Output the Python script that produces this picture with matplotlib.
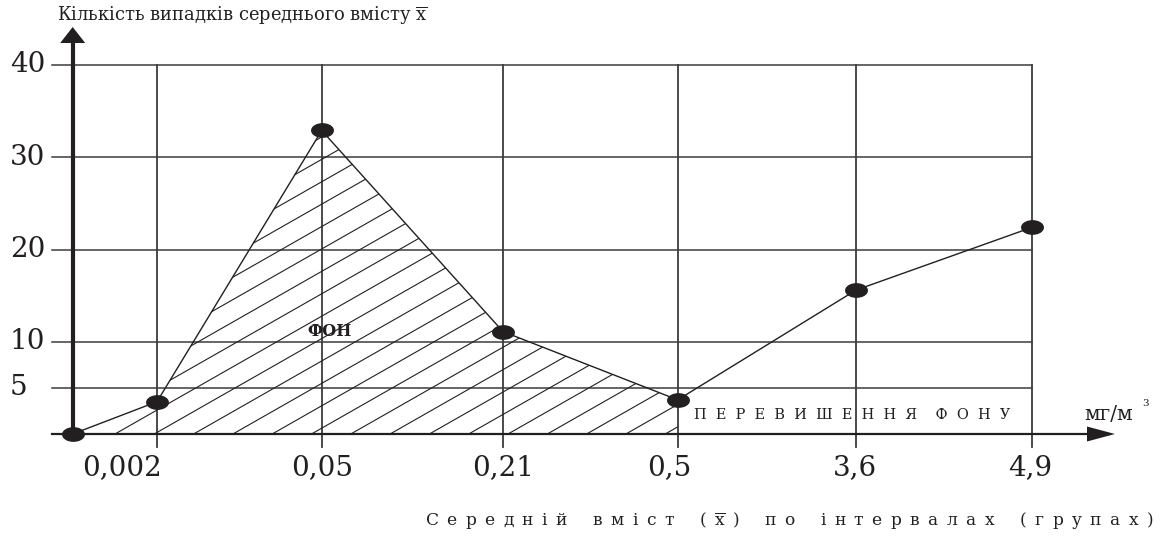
import numpy as np
import matplotlib
matplotlib.use("Agg")
import matplotlib.pyplot as plt
from matplotlib.patches import Polygon

plt.rcParams["mathtext.fontset"] = "custom"
plt.rcParams["mathtext.rm"] = "DejaVu Serif"

# ---- data ----
categories = ["0,002", "0,05", "0,21", "0,5", "3,6", "4,9"]
counts = [3.5, 32.9, 11.1, 3.7, 15.6, 22.4]
origin_count = 0
y_ticks = [5, 10, 20, 30, 40]
background_last = "0,5"  # hatched "ФОН" area runs up to this group

xbar = r"$\overline{\mathrm{x}}$"
title_y = "Кількість випадків середнього вмісту " + xbar
caption_words = [list("Середній"), list("вміст"), ["(", xbar, ")"],
                 list("по"), list("інтервалах"), list("(групах)")]
excess_words = [list("ПЕРЕВИШЕННЯ"), list("ФОНУ")]
background_label = "ФОН"
unit_label = "мг/м"


def spaced(words, gap, wgap):
    # letter-spaced text, as typeset in the original figure
    return wgap.join(gap.join(w) for w in words)


# ---- layout (pixel columns of the figure) ----
W, H = 1166, 542
origin_px = 72.7
slot_px = [157, 321.7, 503, 677.7, 856, 1032]
label_px = [122, 322, 503, 669, 855, 1030]
y0_px, y40_px = 434, 65
ppu = (y0_px - y40_px) / 40.0  # pixels per count


def py(y_pix):
    # pixel row -> count units
    return (y0_px - y_pix) / ppu


ink = "#231f20"
grid_c = "#3c3c3c"
serif = ["DejaVu Serif"]

fig = plt.figure(figsize=(W / 100, H / 100), dpi=100)
ax = fig.add_axes([0, 0, 1, 1])
ax.set_xlim(0, W)
ax.set_ylim(py(H), py(0))
ax.axis("off")

# grid
for t in y_ticks:
    ax.plot([52, slot_px[-1]], [t, t], color=grid_c, lw=1.1, zorder=1)
for xp in slot_px:
    ax.plot([xp, xp], [py(447), y_ticks[-1]], color=grid_c, lw=1.3, zorder=1)

# axes with arrows
ax.plot([origin_px, origin_px], [0, py(42)], color=ink, lw=3.0, zorder=3)
ax.fill([origin_px - 12.5, origin_px + 12.5, origin_px], [py(43), py(43), py(27)],
        color=ink, zorder=3, lw=0)
ax.plot([52, 1090], [0, 0], color=ink, lw=1.6, zorder=3)
ax.fill([1087, 1087, 1115], [py(426.5), py(441.5), py(434)], color=ink, zorder=3, lw=0)

# curve
xs = [origin_px] + slot_px
ys = [origin_count] + counts
ax.plot(xs, ys, color=ink, lw=1.0, zorder=4)

t = np.linspace(0, 2 * np.pi, 40)
ellipse = np.column_stack([np.cos(t), 0.62 * np.sin(t)])
ax.plot(xs, ys, ls="none", marker=ellipse, markersize=15.5, color=ink, zorder=5)

# hatched background area
k = categories.index(background_last) + 2
verts = list(zip(xs[:k], ys[:k])) + [(xs[k - 1], 0)]
area = Polygon(verts, closed=True, fill=False, lw=0)
ax.add_patch(area)
slope = 0.57 / ppu
for c in np.arange(115 - 39.3 * 20, 700, 39.3):
    hx = np.array([c, c + 800])
    ln, = ax.plot(hx, slope * (hx - c), color=ink, lw=0.8, zorder=2)
    ln.set_clip_path(area)

# texts
title = ax.text(57, py(16), title_y, fontsize=12, family=serif,
                ha="left", va="center", color=ink)
for t_ in y_ticks:
    ax.text(10, t_, str(t_), fontsize=20, family=serif, ha="left", va="center", color=ink)
for lab, xp in zip(categories, label_px):
    ax.text(xp, py(468), lab, fontsize=20, family=serif, ha="center", va="center", color=ink)
excess = ax.text(694, py(415), spaced(excess_words, "  ", "    "), fontsize=10,
                 family=serif, ha="left", va="center", color=ink)
ax.text(1084, py(415), unit_label, fontsize=14.5, family=serif,
        ha="left", va="center", color=ink)
ax.text(1142, py(404), "3", fontsize=7.5, family=serif,
        ha="left", va="center", color=ink)
ax.text(330, py(332), background_label, fontsize=11.5, family=serif,
        weight="bold", ha="center", va="center", color=ink)
caption = ax.text(425, py(521), spaced(caption_words, "\u2002", "\u2002" * 3),
                  fontsize=12, family=serif, ha="left", va="center", color=ink)

# stretch the wide, letter-spaced lines to the width they take in the original
renderer = fig.canvas.get_renderer()
for txt, width in [(title, 370), (excess, 314), (caption, 728)]:
    w = txt.get_window_extent(renderer).width
    txt.set_fontsize(txt.get_fontsize() * width / w)

fig.savefig("out.png", dpi=100)
